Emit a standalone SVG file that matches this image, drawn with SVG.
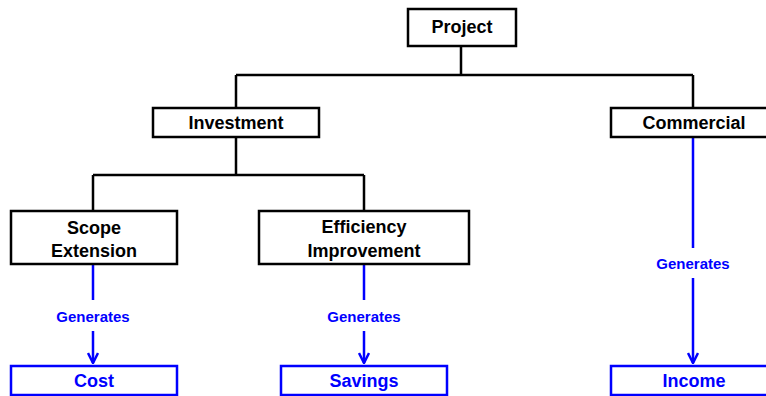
<svg xmlns="http://www.w3.org/2000/svg" width="766" height="396" viewBox="0 0 766 396">
<defs>
<style>
.box{fill:#fff;stroke:#000;stroke-width:2.5}
.bbox{fill:#fff;stroke:#0000ff;stroke-width:2.5}
.t{font-family:"Liberation Sans",Arial,sans-serif;font-weight:bold;font-size:18px;fill:#000;text-anchor:middle}
.bt{font-family:"Liberation Sans",Arial,sans-serif;font-weight:bold;font-size:18px;fill:#0000ff;text-anchor:middle}
.gl{font-family:"Liberation Sans",Arial,sans-serif;font-weight:bold;font-size:15px;fill:#0000ff;text-anchor:middle}
.k{fill:none;stroke:#000;stroke-width:2.5}
.b{fill:none;stroke:#0000ff;stroke-width:2.5}
</style>
<marker id="ah" viewBox="0 0 12 12" refX="11" refY="6" markerWidth="12" markerHeight="12" markerUnits="userSpaceOnUse" orient="auto">
<path d="M1,1 L11,6 L1,11" fill="none" stroke="#0000ff" stroke-width="2.5"/>
</marker>
</defs>
<g id="connectors">
<path class="k" d="M461,46 V75 M236,75 H693 M236,75 V108 M693,75 V108 M236,137 V175 M93,175 H364 M93,175 V211 M364,175 V211"/>
<path class="b" d="M93,264 V300 M364,264 V300 M693,137 V248"/>
<path class="b" d="M93,331 V363" marker-end="url(#ah)"/>
<path class="b" d="M364,331 V363" marker-end="url(#ah)"/>
<path class="b" d="M693,278 V363" marker-end="url(#ah)"/>
<text class="gl" x="93" y="322">Generates</text>
<text class="gl" x="364" y="322">Generates</text>
<text class="gl" x="693" y="269">Generates</text>
</g>
<g id="project"><rect class="box" x="408" y="9" width="108" height="37"/><text class="t" x="462" y="33">Project</text></g>
<g id="investment"><rect class="box" x="153" y="108" width="166" height="29"/><text class="t" x="236" y="129">Investment</text></g>
<g id="commercial"><rect class="box" x="611" y="108" width="166" height="29"/><text class="t" x="694" y="129">Commercial</text></g>
<g id="scope"><rect class="box" x="11" y="211" width="166" height="53"/><text class="t" x="94" y="234">Scope</text><text class="t" x="94" y="257">Extension</text></g>
<g id="efficiency"><rect class="box" x="259" y="211" width="210" height="53"/><text class="t" x="364" y="233">Efficiency</text><text class="t" x="364" y="257">Improvement</text></g>
<g id="cost"><rect class="bbox" x="11" y="366" width="166" height="29"/><text class="bt" x="94" y="387">Cost</text></g>
<g id="savings"><rect class="bbox" x="281" y="366" width="166" height="29"/><text class="bt" x="364" y="387">Savings</text></g>
<g id="income"><rect class="bbox" x="611" y="366" width="166" height="29"/><text class="bt" x="694" y="387">Income</text></g>
</svg>
